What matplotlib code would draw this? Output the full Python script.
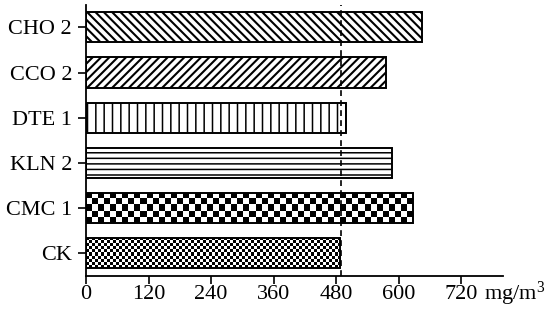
import numpy as np
import matplotlib
matplotlib.use("Agg")
import matplotlib.pyplot as plt

categories = ["CK", "CMC 1", "KLN 2", "DTE 1", "CCO 2", "CHO 2"]
values = [488, 627, 588, 498, 575, 645]
reference_value = 490
x_ticks = [0, 120, 240, 360, 480, 600, 720]
unit_label = r"mg/m$^3$"

plt.rcParams["font.family"] = ["Liberation Serif", "DejaVu Serif"]
plt.rcParams["mathtext.fontset"] = "custom"
plt.rcParams["mathtext.rm"] = "Liberation Serif"
plt.rcParams["mathtext.it"] = "Liberation Serif:italic"

W, H = 550, 313
fig = plt.figure(figsize=(W / 100, H / 100), dpi=100)
left, right = 86 / W, 503 / W
bottom, top = 1 - 275.7 / H, 1 - 4.8 / H
ax = fig.add_axes([left, bottom, right - left, top - bottom])

xmax = 800
ax.set_xlim(0, xmax)
ax.set_ylim(-0.5, len(categories) - 0.5)
bar_h = 0.667
ppu = (right - left) * W / xmax  # pixels per data unit

styles = {
    "CK": ("checker", 3.0, None),
    "CMC 1": ("checker", 6.0, None),
    "KLN 2": ("hatch", "---", 1.1),
    "DTE 1": ("hatch", "||", 1.1),
    "CCO 2": ("hatch", "////", 1.5),
    "CHO 2": ("hatch", "\\\\\\\\", 1.5),
}

ypos = np.arange(len(categories))
for y, cat, val in zip(ypos, categories, values):
    kind, param, hlw = styles[cat]
    if kind == "hatch":
        with plt.rc_context({"hatch.linewidth": hlw}):
            bars = ax.barh(y, val, height=bar_h, color="white", edgecolor="black",
                           linewidth=1.4, hatch=param, zorder=2)
        for b in bars:
            if hasattr(b, "set_hatch_linewidth"):
                b.set_hatch_linewidth(hlw)
    else:
        sq = param
        ncols = max(1, int(round(val * ppu / sq)))
        nrows = max(1, int(round(bar_h * 45 / sq)))
        ii, jj = np.indices((nrows, ncols))
        pat = ((ii + jj) % 2).astype(float)
        bars = ax.barh(y, val, height=bar_h, color="white", edgecolor="black",
                       linewidth=1.4, zorder=3)
        bars[0].set_facecolor("none")
        im = ax.imshow(pat, cmap="gray", interpolation="nearest", aspect="auto",
                       extent=(0, val, y - bar_h / 2, y + bar_h / 2), zorder=2)
        im.set_clip_path(bars[0])

ax.set_xlim(0, xmax)
ax.set_ylim(-0.5, len(categories) - 0.5)

ax.axvline(reference_value, color="black", linestyle=(0, (3.5, 2.5)),
           linewidth=1.2, zorder=4)

ax.set_yticks(ypos)
ax.set_yticklabels(categories)
ax.set_xticks(x_ticks)
ax.set_xticklabels([str(t) for t in x_ticks])

for s in ["top", "right"]:
    ax.spines[s].set_visible(False)
for s in ["left", "bottom"]:
    ax.spines[s].set_linewidth(1.3)

ax.tick_params(axis="both", labelsize=16, length=6, width=1.2, direction="out",
               colors="black")
ax.tick_params(axis="y", pad=4)
ax.tick_params(axis="x", pad=1)

fig.text(484 / W, 1 - 299.5 / H, unit_label, fontsize=16, ha="left",
         va="baseline")

fig.savefig("out.png", dpi=100)
